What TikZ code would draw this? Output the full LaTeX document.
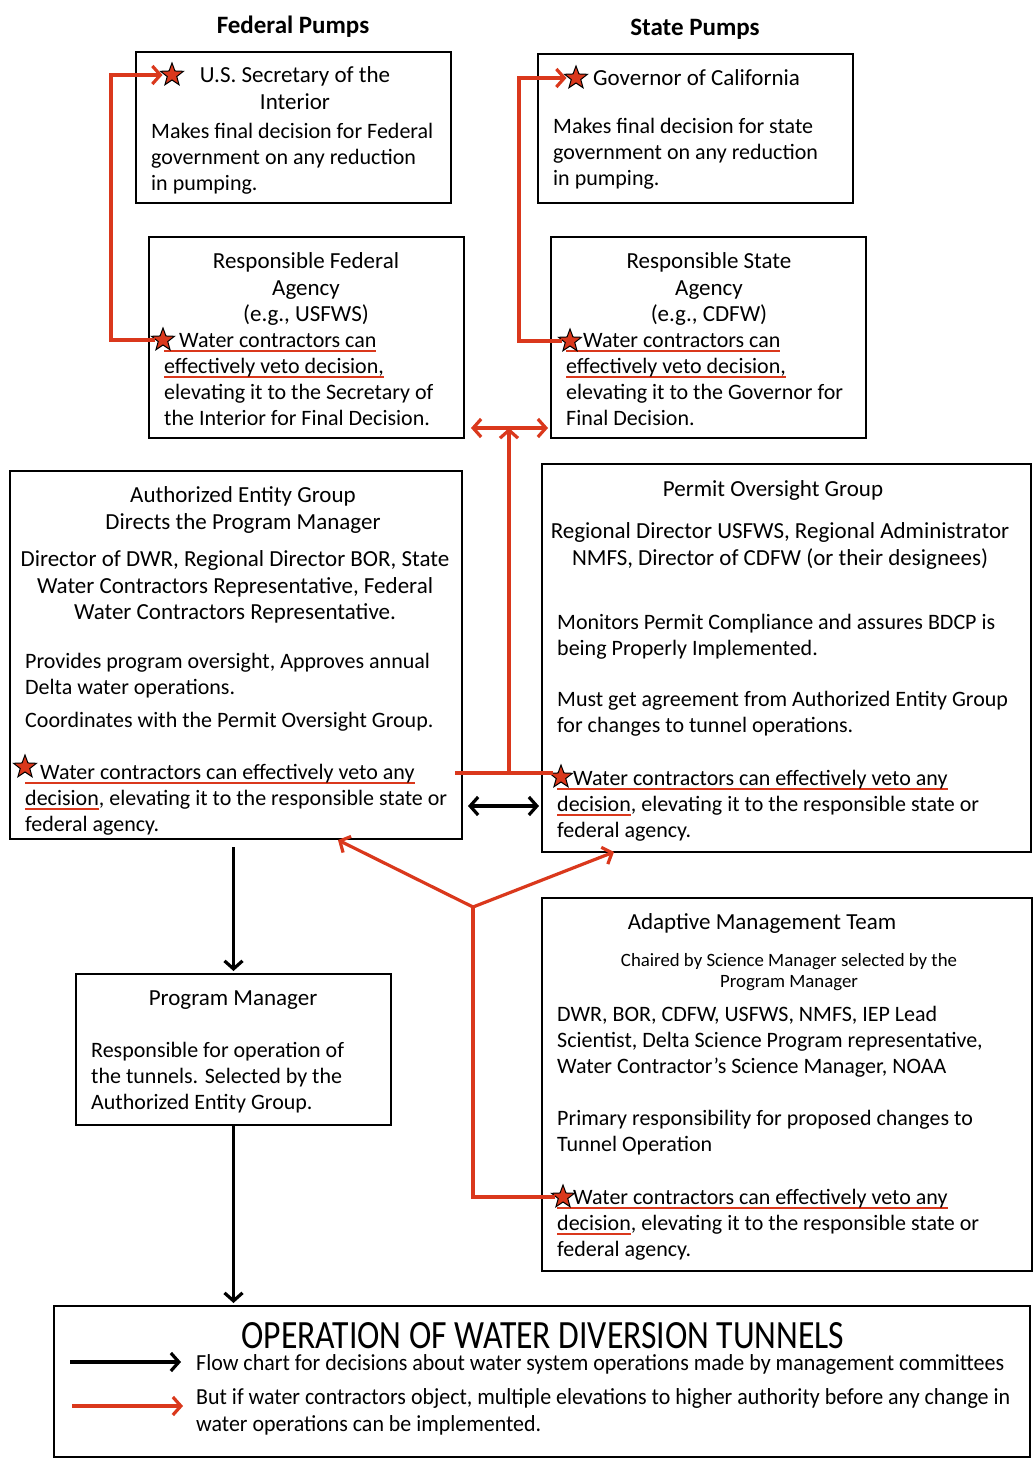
\documentclass[tikz,border=0pt]{standalone}
\usepackage{fontspec}
\setmainfont{Carlito}
\usetikzlibrary{arrows.meta,shapes.geometric,fit,calc}
\definecolor{redc}{RGB}{218,56,28}
\newsavebox\ulbox
\newcommand\redul[1]{\sbox\ulbox{#1}\rlap{\color{redc}\rule[-4.5pt]{\wd\ulbox}{1.8pt}}\usebox\ulbox}
\newcommand\fs{\rule{0pt}{16pt}}
\tikzset{
  boxn/.style={draw, line width=2pt, inner sep=0pt},
  txt/.style={inner sep=0pt},
  tl/.style={txt, anchor=north west, align=left, font=\fontsize{22}{26.2}\selectfont},
  tc/.style={txt, anchor=north, align=center, font=\fontsize{23}{26.8}\selectfont},
  starm/.style={star, star points=5, star point ratio=2.4, minimum size=24pt, inner sep=0pt, fill=redc, draw=black, line width=1pt},
  redl/.style={draw=redc, line width=3.2pt},
  blk/.style={draw=black, line width=3.2pt},
  tipend/.style={-{Straight Barb[length=8pt,width=18pt]}},
  tipboth/.style={{Straight Barb[length=8pt,width=18pt]}-{Straight Barb[length=8pt,width=18pt]}},
  ttl/.style={inner sep=0pt, anchor=base, font=\fontsize{25}{30}\selectfont\bfseries}
}
\begin{document}
\begin{tikzpicture}[x=1pt,y=-1pt]
\useasboundingbox[fill=white] (0,0) rectangle (1033,1460);

% titles
\node[ttl] (fedp) at (293,33) {Federal Pumps};
\node[ttl] (statep) at (695,35) {State Pumps};

% boxes
\node[boxn, fit={(136,52) (451,203)}] (sec) {};
\node[boxn, fit={(538,54) (853,203)}] (gov) {};
\node[boxn, fit={(149,237) (464,438)}] (rf) {};
\node[boxn, fit={(551,237) (866,438)}] (rs) {};
\node[boxn, fit={(10,471) (462,839)}] (aeg) {};
\node[boxn, fit={(542,464) (1031,852)}] (pog) {};
\node[boxn, fit={(542,898) (1032,1271)}] (amt) {};
\node[boxn, fit={(76,974) (391,1125)}] (pm) {};
\node[boxn, fit={(54,1306) (1030,1457)}] (leg) {};

% Secretary
\node[tc] (t1a) at (295,66) {\fs U.S. Secretary of the\\Interior};
\node[tl] (t1b) at (151,122) {\fs Makes final decision for Federal\\government on any reduction\\in pumping.};
% Governor
\node[tl, font=\fontsize{23}{26.8}\selectfont] (t2a) at (593,69) {\fs Governor of California};
\node[tl] (t2b) at (553,117) {\fs Makes final decision for state\\government on any reduction\\in pumping.};
% Responsible Federal
\node[tc] (t3a) at (306,252) {\fs Responsible Federal\\Agency\\(e.g., USFWS)};
\node[tl] (t3b) at (164,331) {\fs\redul{\hspace{15pt}Water contractors can}\\\redul{effectively veto decision,}\\elevating it to the Secretary of\\the Interior for Final Decision.};
% Responsible State
\node[tc] (t4a) at (709,252) {\fs Responsible State\\Agency\\(e.g., CDFW)};
\node[tl] (t4b) at (566,331) {\fs\redul{\hspace{17pt}Water contractors can}\\\redul{effectively veto decision,}\\elevating it to the Governor for\\Final Decision.};
% AEG
\node[tc] (t5a) at (243,486) {\fs Authorized Entity Group\\Directs the Program Manager};
\node[tc] (t5b) at (235,550) {\fs Director of DWR, Regional Director BOR, State\\Water Contractors Representative, Federal\\Water Contractors Representative.};
\node[tl] (t5c) at (25,652) {\fs Provides program oversight, Approves annual\\Delta water operations.};
\node[tl] (t5d) at (25,711) {\fs Coordinates with the Permit Oversight Group.};
\node[tl] (t5e) at (25,763) {\fs\redul{\hspace{15pt}Water contractors can effectively veto any}\\\redul{decision}, elevating it to the responsible state or\\federal agency.};
% POG
\node[tc] (t6a) at (773,480) {\fs Permit Oversight Group};
\node[tc] (t6b) at (780,522) {\fs Regional Director USFWS, Regional Administrator\\NMFS, Director of CDFW (or their designees)};
\node[tl] (t6c) at (557,613) {\fs Monitors Permit Compliance and assures BDCP is\\being Properly Implemented.};
\node[tl] (t6d) at (557,690) {\fs Must get agreement from Authorized Entity Group\\for changes to tunnel operations.};
\node[tl] (t6e) at (557,769) {\fs\redul{\hspace{16pt}Water contractors can effectively veto any}\\\redul{decision}, elevating it to the responsible state or\\federal agency.};
% AMT
\node[tc] (t7a) at (762,913) {\fs Adaptive Management Team};
\node[tc, font=\fontsize{18.8}{21}\selectfont] (t7b) at (789,953) {\rule{0pt}{13pt}Chaired by Science Manager selected by the\\Program Manager};
\node[tl] (t7c) at (557,1005) {\fs DWR, BOR, CDFW, USFWS, NMFS, IEP Lead\\Scientist, Delta Science Program representative,\\Water Contractor’s Science Manager, NOAA};
\node[tl] (t7d) at (557,1109) {\fs Primary responsibility for proposed changes to\\Tunnel Operation};
\node[tl] (t7e) at (557,1188) {\fs\redul{\hspace{16pt}Water contractors can effectively veto any}\\\redul{decision}, elevating it to the responsible state or\\federal agency.};
% PM
\node[tc] (t8a) at (233,989) {\fs Program Manager};
\node[tl] (t8b) at (91,1041) {\fs Responsible for operation of\\the tunnels. Selected by the\\Authorized Entity Group.};
% legend
\node[inner sep=0pt] (lgt) at (543,1336) {\resizebox{603pt}{26pt}{\fontsize{30}{36}\selectfont OPERATION OF WATER DIVERSION TUNNELS}};
\node[tl, font=\fontsize{23}{27}\selectfont, anchor=west] (lg1) at (196,1364) {\resizebox{808pt}{\height}{Flow chart for decisions about water system operations made by management committees}};
\node[tl, font=\fontsize{23}{27}\selectfont] (lg2) at (196,1388) {\rule{0pt}{14pt}\resizebox{814pt}{\height}{But if water contractors object, multiple elevations to higher authority before any change in}\\\resizebox{345pt}{\height}{water operations can be implemented.}};

% stars
\node[starm] (s1) at (172,75) {};
\node[starm] (s2) at (576,78) {};
\node[starm] (s3) at (163,340) {};
\node[starm] (s4) at (570,341) {};
\node[starm] (s5) at (25,767) {};
\node[starm] (s6) at (561,777) {};
\node[starm] (s7) at (563,1197) {};

% helper coordinates
\coordinate (cf) at (111,0);
\coordinate (cs) at (519,0);
\coordinate (tl) at (455,773);
\coordinate (tm) at (509,773);
\coordinate (tt) at (509,428);
\coordinate (yb) at (473,907);
\coordinate (ya) at (338,840);
\coordinate (yc) at (614,852);
\coordinate (bh) at (0,806);
\coordinate (la1) at (70,1362);
\coordinate (la2) at (181,1362);
\coordinate (lb1) at (72,1406);
\coordinate (lb2) at (183,1406);

% red elevation connectors
\draw[redl, tipend] (s3.west) -- (s3.west -| cf) |- ([xshift=-2pt]s1.west);
\draw[redl, tipend] (s4.west) -- (s4.west -| cs) |- ([xshift=-2pt]s2.west);
\draw[redl] (tl) -- (tl -| s6.west);
\draw[redl, tipend] (tm) -- (tt);
\draw[redl, tipboth] ([xshift=6pt]rf.east |- tt) -- ([xshift=-2pt]rs.west |- tt);
\draw[redl] (s7.west) -- (s7.west -| yb) -- (yb);
\draw[redl, tipend] (yb) -- (ya);
\draw[redl, tipend] (yb) -- (yc);

% black flow connectors
\draw[blk, tipboth] ([xshift=5pt]aeg.east |- bh) -- ([xshift=-2pt]pog.west |- bh);
\draw[blk, tipend] ([yshift=-7pt]pm.north |- aeg.south) -- ([yshift=2pt]pm.north);
\draw[blk, tipend] (pm.south) -- ([yshift=2pt]pm.south |- leg.north);

% legend arrows
\draw[blk, tipend] (la1) -- (la2);
\draw[redl, tipend] (lb1) -- (lb2);
\end{tikzpicture}
\end{document}
